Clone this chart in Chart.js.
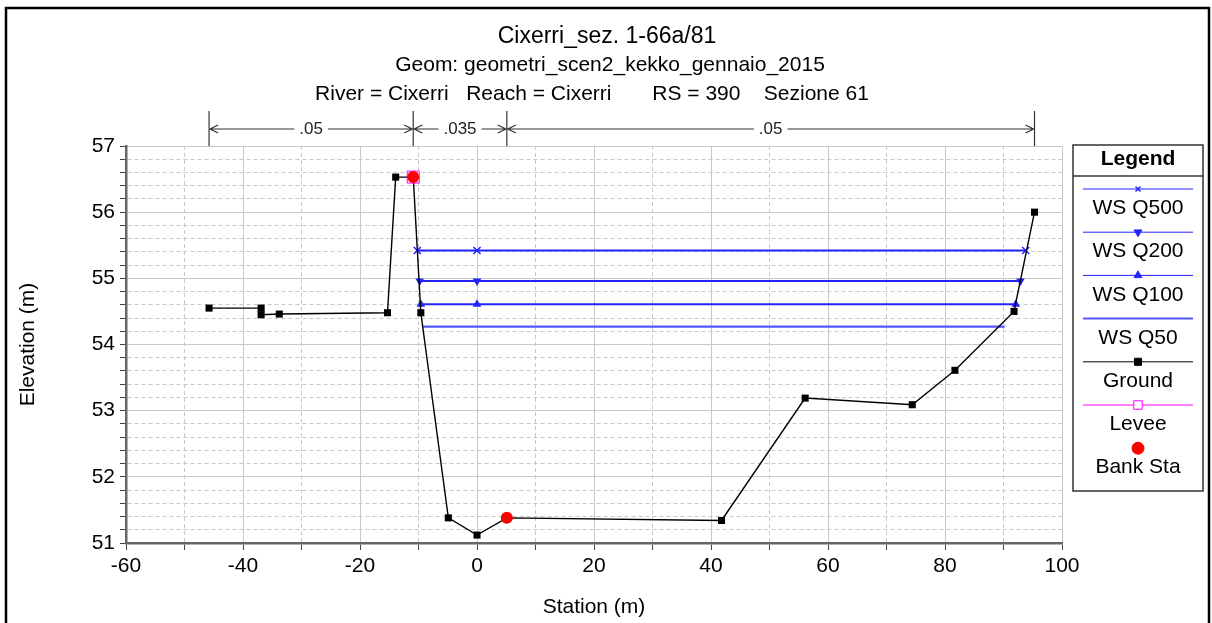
<!DOCTYPE html>
<html>
<head>
<meta charset="utf-8">
<title>Cixerri_sez. 1-66a/81</title>
<script src="https://cdn.jsdelivr.net/npm/chart.js@4.4.1/dist/chart.umd.min.js"></script>
<style>
  html, body { margin: 0; padding: 0; background: #fff; }
  #wrap { width: 1212px; height: 623px; }
</style>
</head>
<body>
<div id="wrap"><canvas id="xsChart" width="1212" height="623"></canvas></div>
<script>
// Section data (station m, elevation m)
const groundSta = [-45.8, -36.9, -36.9, -33.8, -15.3, -13.9, -10.9, -9.6, -4.9, 0, 5.1, 41.8, 56.1, 74.4, 81.7, 91.8, 95.3];
const groundElev = [54.55, 54.55, 54.45, 54.46, 54.48, 56.53, 56.53, 54.48, 51.38, 51.12, 51.38, 51.34, 53.19, 53.09, 53.61, 54.5, 56.0];

const bankSta = [-10.9, 5.1];
const bankElev = [56.53, 51.38];

const leveeSta = [-10.9];
const leveeElev = [56.53];

const q500Sta = [-10.2, 0, 93.8];
const q500Elev = [55.42, 55.42, 55.42];
const q200Sta = [-9.8, 0, 92.9];
const q200Elev = [54.96, 54.96, 54.96];
const q100Sta = [-9.6, 0, 92.1];
const q100Elev = [54.61, 54.61, 54.61];
const q50Sta = [-9.2, 90.2];
const q50Elev = [54.27, 54.27];

// Manning's n breaks along the top
const manningSta = [-45.8, -10.9, 5.1, 95.3];
const manningN = [".05", ".035", ".05"];

const titleLines = [
  "Cixerri_sez. 1-66a/81",
  "Geom: geometri_scen2_kekko_gennaio_2015",
  "River = Cixerri   Reach = Cixerri       RS = 390    Sezione 61"
];

const legendOrder = ["WS Q500", "WS Q200", "WS Q100", "WS Q50", "Ground", "Levee", "Bank Sta"];

const FONT = "'Liberation Sans', Arial, Helvetica, sans-serif";
Chart.defaults.font.family = FONT;
Chart.defaults.color = "#000";

const pts = (xs, ys) => xs.map((x, i) => ({ x: x, y: ys[i] }));
const isWhole = (v, step) => Math.abs(v / step - Math.round(v / step)) < 1e-6;

const WS_BLUE = "rgb(35,35,255)";
const WS50_BLUE = "rgb(85,85,255)";

const datasets = [
  {
    label: "Bank Sta", data: pts(bankSta, bankElev), showLine: false,
    pointStyle: "circle", pointRadius: 6, backgroundColor: "#ff0000", borderColor: "#ff0000", borderWidth: 0,
    legendRadius: 6
  },
  {
    label: "Levee", data: pts(leveeSta, leveeElev), showLine: false,
    pointStyle: "rect", pointRadius: 8.5, backgroundColor: "rgba(0,0,0,0)", borderColor: "#ff00ff", borderWidth: 1,
    legendRadius: 6
  },
  {
    label: "Ground", data: pts(groundSta, groundElev), showLine: true,
    borderColor: "#000", borderWidth: 1.4, pointStyle: "rect", pointRadius: 5,
    pointBackgroundColor: "#000", pointBorderColor: "#000", pointBorderWidth: 0,
    legendRadius: 5
  },
  {
    label: "WS Q500", data: pts(q500Sta, q500Elev), showLine: true,
    borderColor: WS_BLUE, borderWidth: 2, pointStyle: "crossRot", pointRadius: 5,
    pointBorderColor: WS_BLUE, pointBorderWidth: 1.5, legendRadius: 3.5
  },
  {
    label: "WS Q200", data: pts(q200Sta, q200Elev), showLine: true,
    borderColor: WS_BLUE, borderWidth: 2, pointStyle: "triangle", pointRotation: 180, pointRadius: 5,
    pointBackgroundColor: WS_BLUE, pointBorderColor: WS_BLUE, pointBorderWidth: 0, legendRadius: 4.5
  },
  {
    label: "WS Q100", data: pts(q100Sta, q100Elev), showLine: true,
    borderColor: WS_BLUE, borderWidth: 2, pointStyle: "triangle", pointRadius: 5,
    pointBackgroundColor: WS_BLUE, pointBorderColor: WS_BLUE, pointBorderWidth: 0, legendRadius: 4.5
  },
  {
    label: "WS Q50", data: pts(q50Sta, q50Elev), showLine: true,
    borderColor: WS50_BLUE, borderWidth: 2.2, pointRadius: 0, legendRadius: 0
  }
];

// titles, manning's n bar, frame and the boxed legend
const decor = {
  id: "decor",
  beforeDraw(chart) {
    const c = chart.ctx;
    c.save();
    c.fillStyle = "#fff";
    c.fillRect(0, 0, chart.width, chart.height);
    c.strokeStyle = "#000";
    c.lineWidth = 2.5;
    c.strokeRect(6, 8, 1203, 650);
    c.restore();
  },
  afterDraw(chart) {
    const c = chart.ctx;
    const xs = chart.scales.x;
    const area = chart.chartArea;
    c.save();

    // titles
    c.textAlign = "center";
    c.textBaseline = "middle";
    c.fillStyle = "#000";
    c.font = "23px " + FONT;
    c.fillText(titleLines[0], 607, 37);
    c.font = "21px " + FONT;
    c.fillText(titleLines[1], 610, 65);
    c.fillText(titleLines[2], 592, 94);

    // manning's n
    const ny = 129;
    c.strokeStyle = "#333";
    c.lineWidth = 1.2;
    const px = manningSta.map(s => xs.getPixelForValue(s));
    px.forEach(p => {
      c.beginPath(); c.moveTo(p, 111); c.lineTo(p, area.top); c.stroke();
    });
    c.font = "17px " + FONT;
    for (let i = 0; i < manningN.length; i++) {
      const a = px[i], b = px[i + 1];
      const mid = (a + b) / 2;
      const half = c.measureText(manningN[i]).width / 2 + 5;
      c.beginPath();
      c.moveTo(a + 1, ny); c.lineTo(mid - half, ny);
      c.moveTo(mid + half, ny); c.lineTo(b - 1, ny);
      // arrow heads
      c.moveTo(a + 9, ny - 4); c.lineTo(a + 1, ny); c.lineTo(a + 9, ny + 4);
      c.moveTo(b - 9, ny - 4); c.lineTo(b - 1, ny); c.lineTo(b - 9, ny + 4);
      c.stroke();
      c.fillStyle = "#222";
      c.fillText(manningN[i], mid, ny);
    }

    // legend box
    const lx = 1073, ly = 145, lw = 130, lh = 346;
    c.strokeStyle = "#333";
    c.lineWidth = 1.5;
    c.strokeRect(lx, ly, lw, lh);
    c.beginPath(); c.moveTo(lx, 176); c.lineTo(lx + lw, 176); c.stroke();
    c.fillStyle = "#000";
    c.font = "bold 21px " + FONT;
    c.fillText("Legend", lx + lw / 2, 159);

    const cx = lx + lw / 2;
    legendOrder.forEach((name, i) => {
      const ds = chart.data.datasets.find(d => d.label === name);
      const lineY = 189 + i * 43.2;
      const textY = lineY + 19.5;
      if (ds.showLine) {
        c.strokeStyle = ds.borderColor;
        c.lineWidth = name === "WS Q50" ? 2 : 1;
        c.beginPath(); c.moveTo(1083, lineY); c.lineTo(1193, lineY); c.stroke();
      } else if (name === "Levee") {
        c.strokeStyle = "#ff00ff";
        c.lineWidth = 1;
        c.beginPath(); c.moveTo(1083, lineY); c.lineTo(1193, lineY); c.stroke();
      }
      if (ds.legendRadius > 0) {
        const fill = ds.pointBackgroundColor || ds.backgroundColor;
        c.fillStyle = name === "Levee" ? "#fff" : fill;
        c.strokeStyle = ds.pointBorderColor || ds.borderColor;
        c.lineWidth = ds.pointBorderWidth !== undefined ? ds.pointBorderWidth : ds.borderWidth;
        Chart.helpers.drawPoint(c, {
          pointStyle: ds.pointStyle, rotation: ds.pointRotation || 0,
          radius: ds.legendRadius, borderWidth: c.lineWidth
        }, cx, lineY);
      }
      c.fillStyle = "#000";
      c.font = "21px " + FONT;
      c.fillText(name, cx, textY);
    });
    c.restore();
  }
};

const ctx = document.getElementById("xsChart").getContext("2d");
new Chart(ctx, {
  type: "scatter",
  data: { datasets: datasets },
  plugins: [decor],
  options: {
    responsive: false,
    animation: false,
    events: [],
    layout: { padding: { left: 0, right: 150, top: 146, bottom: 0 } },
    elements: { line: { tension: 0 } },
    plugins: {
      legend: { display: false },
      tooltip: { enabled: false },
      title: { display: false }
    },
    scales: {
      x: {
        type: "linear",
        min: -60,
        max: 100,
        afterFit(scale) { scale.height = 80; },
        ticks: {
          stepSize: 10,
          autoSkip: false,
          maxRotation: 0,
          padding: 4,
          color: "#000",
          font: { size: 21 },
          callback: v => (isWhole(v, 20) ? v : "")
        },
        grid: {
          color: "#c8c8c8",
          lineWidth: 1,
          tickLength: 7,
          tickColor: "#444"
        },
        border: {
          color: "#666",
          width: 2.5,
          dash: c => (c.tick && !isWhole(c.tick.value, 20) ? [4, 3] : [])
        },
        title: {
          display: true,
          text: "Station (m)",
          font: { size: 21 },
          padding: { top: 0, bottom: 3 }
        }
      },
      y: {
        type: "linear",
        min: 51,
        max: 57,
        afterFit(scale) { scale.width = 126; },
        ticks: {
          stepSize: 0.2,
          autoSkip: false,
          padding: 5,
          color: "#000",
          font: { size: 21 },
          callback: v => (isWhole(v, 1) ? Math.round(v) : "")
        },
        grid: {
          color: "#c8c8c8",
          lineWidth: 1,
          tickLength: 6,
          tickColor: "#444"
        },
        border: {
          color: "#666",
          width: 2.5,
          dash: c => (c.tick && !isWhole(c.tick.value, 1) ? [4, 3] : [])
        },
        title: {
          display: true,
          text: "Elevation (m)",
          font: { size: 21 },
          padding: { top: 16, bottom: 0 }
        }
      }
    }
  }
});
</script>
</body>
</html>
